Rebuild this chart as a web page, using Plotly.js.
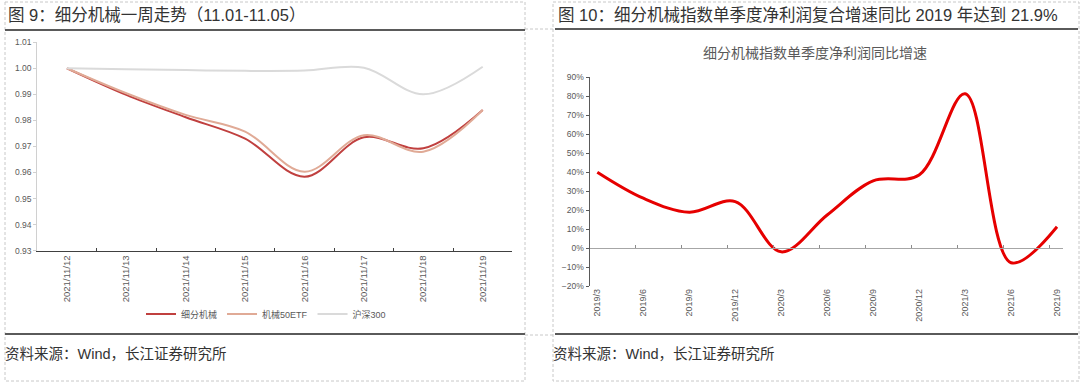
<!DOCTYPE html>
<html><head><meta charset="utf-8">
<script src="https://cdn.plot.ly/plotly-3.0.1.min.js"></script>
<style>html,body{margin:0;padding:0;background:#fff}#chart{width:1080px;height:383px}</style>
</head><body><div id="chart"></div>
<script>
// ---- Data: Fig 9 (weekly trend) ----
const dates = ['2021/11/12','2021/11/13','2021/11/14','2021/11/15','2021/11/16','2021/11/17','2021/11/18','2021/11/19'];
const machinery = [1.000, 0.9898, 0.9812, 0.9730, 0.9584, 0.9735, 0.9693, 0.9840];   // 细分机械
const etf50 = [1.000, 0.9904, 0.9821, 0.9757, 0.9603, 0.9743, 0.9680, 0.9840];       // 机械50ETF
const hs300 = [1.000, 0.9996, 0.9993, 0.9990, 0.9991, 1.0002, 0.9900, 1.0006];       // 沪深300
const seriesNames = ['细分机械', '机械50ETF', '沪深300'];
const leftYTicks = [0.93, 0.94, 0.95, 0.96, 0.97, 0.98, 0.99, 1.00, 1.01];

// ---- Data: Fig 10 (quarterly net profit YoY) ----
const quarters = ['2019/3','2019/6','2019/9','2019/12','2020/3','2020/6','2020/9','2020/12','2021/3','2021/6','2021/9'];
const profitYoY = [0.400, 0.263, 0.189, 0.245, -0.019, 0.175, 0.354, 0.385, 0.812, -0.076, 0.113];
const rightYTicks = [-0.2, -0.1, 0, 0.1, 0.2, 0.3, 0.4, 0.5, 0.6, 0.7, 0.8, 0.9];

const W = 1080, H = 383;
const px = x => x / W, py = y => 1 - y / H;
const FONT = '"Liberation Sans", Arial, "Noto Sans CJK SC", sans-serif';

const traces = [
  {x: dates, y: machinery, name: seriesNames[0], type: 'scatter', mode: 'lines',
   line: {color: '#c0403f', width: 2, shape: 'spline', smoothing: 1}, xaxis: 'x', yaxis: 'y', hoverinfo: 'skip'},
  {x: dates, y: etf50, name: seriesNames[1], type: 'scatter', mode: 'lines',
   line: {color: '#e0aa96', width: 2, shape: 'spline', smoothing: 1}, xaxis: 'x', yaxis: 'y', hoverinfo: 'skip'},
  {x: dates, y: hs300, name: seriesNames[2], type: 'scatter', mode: 'lines',
   line: {color: '#dadada', width: 2, shape: 'spline', smoothing: 1}, xaxis: 'x', yaxis: 'y', hoverinfo: 'skip'},
  {x: quarters, y: profitYoY, name: '细分机械指数单季度净利润同比增速', type: 'scatter', mode: 'lines', showlegend: false,
   line: {color: '#e60000', width: 3, shape: 'spline', smoothing: 1}, xaxis: 'x2', yaxis: 'y2', hoverinfo: 'skip'},
  {x: [], y: [], type: 'scatter', mode: 'lines', showlegend: false, xaxis: 'x3', yaxis: 'y2', hoverinfo: 'skip'}
];

const dash = {color: '#c8c8c8', width: 1, dash: '3px,2px'};
const solid = {color: '#5a5a5a', width: 2};
const shapes = [
  {type: 'rect', xref: 'paper', yref: 'paper', x0: px(5), x1: px(525), y0: py(2), y1: py(381), line: dash},
  {type: 'rect', xref: 'paper', yref: 'paper', x0: px(553), x1: px(1079), y0: py(2), y1: py(381), line: dash},
  {type: 'line', xref: 'paper', yref: 'paper', x0: px(525), x1: px(553), y0: py(29), y1: py(29), line: dash},
  {type: 'line', xref: 'paper', yref: 'paper', x0: px(525), x1: px(553), y0: py(335), y1: py(335), line: dash},
  {type: 'line', xref: 'paper', yref: 'paper', x0: px(5), x1: px(525), y0: py(30), y1: py(30), line: solid},
  {type: 'line', xref: 'paper', yref: 'paper', x0: px(555), x1: px(1078), y0: py(29), y1: py(29), line: solid},
  {type: 'line', xref: 'paper', yref: 'paper', x0: px(5), x1: px(525), y0: py(334), y1: py(334), line: solid},
  {type: 'line', xref: 'paper', yref: 'paper', x0: px(555), x1: px(1078), y0: py(334), y1: py(334), line: solid}
];

const ann = (x, y, text, size, color, xanchor) => ({
  xref: 'paper', yref: 'paper', x: px(x), y: py(y), text: text, showarrow: false,
  xanchor: xanchor || 'left', yanchor: 'middle', font: {family: FONT, size: size, color: color}
});
const annotations = [
  ann(6, 15, '图 9：细分机械一周走势（11.01-11.05）', 16.5, '#333333'),
  ann(556, 15, '图 10：细分机械指数单季度净利润复合增速同比 2019 年达到 21.9%', 16.5, '#333333'),
  ann(815, 53, '细分机械指数单季度净利润同比增速', 14, '#595959', 'center'),
  ann(3, 354, '资料来源：Wind，长江证券研究所', 14.5, '#333333'),
  ann(551, 354, '资料来源：Wind，长江证券研究所', 14.5, '#333333')
];

const layout = {
  width: W, height: H, margin: {l: 0, r: 0, t: 0, b: 0},
  paper_bgcolor: '#ffffff', plot_bgcolor: 'rgba(0,0,0,0)',
  font: {family: FONT, color: '#595959'},
  showlegend: true,
  legend: {orientation: 'h', x: px(266), xanchor: 'center', y: py(314), yanchor: 'middle',
           font: {size: 9, color: '#595959'}, bgcolor: 'rgba(0,0,0,0)', itemwidth: 30},
  xaxis: {type: 'category', domain: [px(37.2), px(512.4)], anchor: 'y', range: [-0.5, dates.length - 0.5],
          tickson: 'boundaries', ticks: 'inside', ticklen: 3, tickcolor: '#404040',
          showline: true, linecolor: '#404040', linewidth: 1, tickangle: -90,
          tickfont: {size: 9.5, color: '#595959'}, showgrid: false, zeroline: false, fixedrange: true},
  yaxis: {domain: [py(250.7), py(42.2)], anchor: 'x', range: [0.93, 1.01], tickvals: leftYTicks, tickformat: '.2f',
          showline: true, linecolor: '#d0d0d0', ticks: 'outside', ticklen: 3, tickcolor: '#d0d0d0',
          tickfont: {size: 8.5, color: '#595959'}, showgrid: false, zeroline: false, fixedrange: true},
  xaxis2: {type: 'category', domain: [px(589.5), px(1063)], anchor: 'y2', range: [-0.17, quarters.length - 0.87],
           showline: false, ticks: '', tickangle: -90, tickfont: {size: 9, color: '#595959'},
           showgrid: false, zeroline: false, fixedrange: true},
  yaxis2: {domain: [py(286.3), py(77)], anchor: 'x2', range: [-0.2, 0.9], tickvals: rightYTicks, tickformat: '.0%',
           showline: true, linecolor: '#595959', ticks: 'outside', ticklen: 3, tickcolor: '#595959',
           tickfont: {size: 8.5, color: '#595959'}, showgrid: false, zeroline: false, fixedrange: true},
  xaxis3: {type: 'linear', overlaying: 'x2', anchor: 'free', position: py(248.3), side: 'bottom',
           range: [-0.17, quarters.length - 0.87], tickvals: quarters.map((_, i) => i - 0.17),
           showticklabels: false, ticks: 'inside', ticklen: 3, tickcolor: '#8c8c8c',
           showline: true, linecolor: '#a6a6a6', linewidth: 1, showgrid: false, zeroline: false, fixedrange: true},
  shapes: shapes,
  annotations: annotations
};

Plotly.newPlot('chart', traces, layout, {displayModeBar: false, staticPlot: true});
</script>
</body></html>
